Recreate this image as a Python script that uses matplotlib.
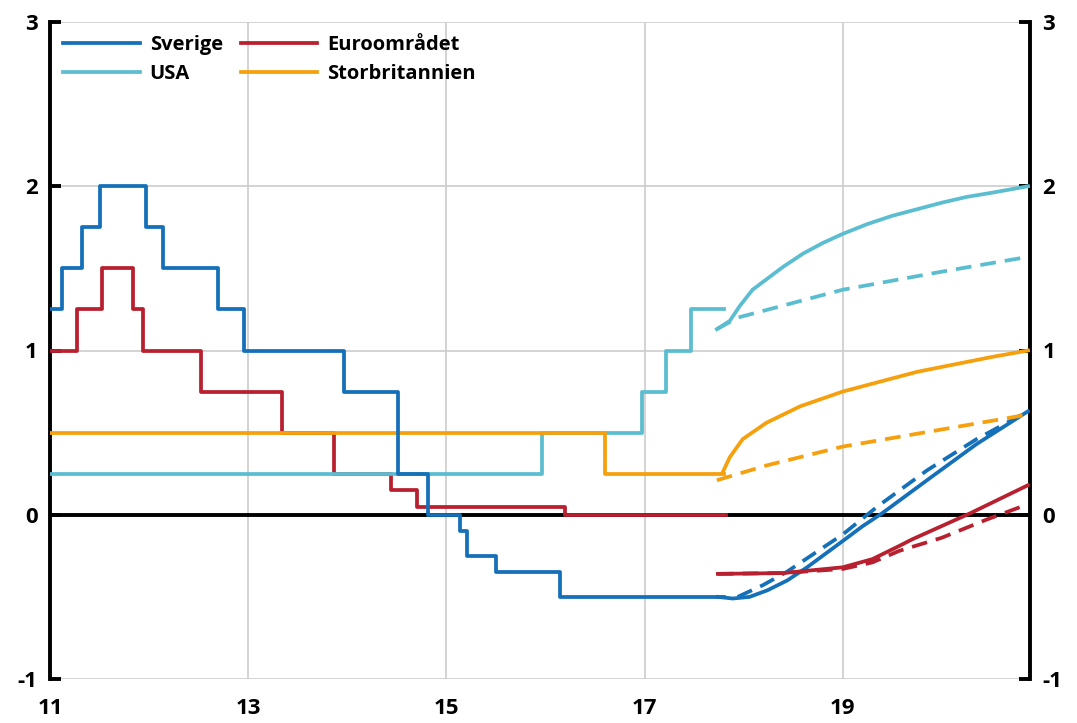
import matplotlib.pyplot as plt

plt.rcParams['font.family'] = ['Open Sans', 'DejaVu Sans']
plt.rcParams['font.weight'] = 'bold'

# colours
c_se = '#1470b8'
c_eu = '#b8202f'
c_us = '#5bbdd0'
c_uk = '#f5a00c'

# outcome (step series)
se_x = [11.0, 11.12, 11.32, 11.5, 11.97, 12.14, 12.70, 12.96, 13.97, 14.51, 14.81, 15.14, 15.21, 15.5, 16.15, 17.8]
se_y = [1.25, 1.5, 1.75, 2.0, 1.75, 1.5, 1.25, 1.0, 0.75, 0.25, 0.0, -0.1, -0.25, -0.35, -0.5, -0.5]

eu_x = [11.0, 11.27, 11.52, 11.84, 11.94, 12.52, 13.34, 13.87, 14.44, 14.7, 16.2, 17.82]
eu_y = [1.0, 1.25, 1.5, 1.25, 1.0, 0.75, 0.5, 0.25, 0.15, 0.05, 0.0, 0.0]

us_x = [11.0, 15.97, 16.97, 17.22, 17.47, 17.8]
us_y = [0.25, 0.5, 0.75, 1.0, 1.25, 1.25]

uk_x = [11.0, 16.6, 17.8]
uk_y = [0.5, 0.25, 0.25]

# market expectations, solid = now, dashed = earlier
se_f_x = [17.74, 17.89, 18.06, 18.24, 18.44, 18.64, 19.0, 19.2, 19.4, 19.85, 20.35, 20.87]
se_f_y = [-0.5, -0.51, -0.5, -0.46, -0.40, -0.32, -0.16, -0.07, 0.01, 0.21, 0.43, 0.63]
se_d_x = [17.94, 18.19, 18.43, 19.0, 19.35, 19.85, 20.35, 20.87]
se_d_y = [-0.5, -0.43, -0.35, -0.12, 0.05, 0.27, 0.46, 0.63]

eu_f_x = [17.74, 18.4, 19.0, 19.3, 19.57, 19.7, 20.29, 20.87]
eu_f_y = [-0.36, -0.355, -0.32, -0.27, -0.19, -0.15, 0.01, 0.18]
eu_d_x = [17.74, 18.4, 19.0, 19.3, 19.57, 20.0, 20.45, 20.85]
eu_d_y = [-0.36, -0.355, -0.33, -0.29, -0.22, -0.14, -0.03, 0.06]

us_f_x = [17.73, 17.86, 17.96, 18.09, 18.4, 18.6, 18.8, 19.0, 19.25, 19.5, 19.75, 20.0, 20.25, 20.5, 20.87]
us_f_y = [1.13, 1.18, 1.27, 1.37, 1.51, 1.59, 1.655, 1.71, 1.77, 1.82, 1.86, 1.9, 1.935, 1.96, 2.0]
us_d_x = [17.73, 17.94, 19.0, 20.0, 20.87]
us_d_y = [1.13, 1.2, 1.37, 1.48, 1.57]

uk_f_x = [17.79, 17.86, 17.99, 18.23, 18.57, 19.0, 19.25, 19.5, 19.75, 20.0, 20.25, 20.5, 20.87]
uk_f_y = [0.26, 0.35, 0.46, 0.56, 0.66, 0.75, 0.79, 0.83, 0.87, 0.9, 0.93, 0.96, 1.0]
uk_d_x = [17.73, 18.23, 19.0, 20.87]
uk_d_y = [0.21, 0.30, 0.415, 0.61]

xticks = [11, 13, 15, 17, 19]
yticks = [-1, 0, 1, 2, 3]

fig = plt.figure(figsize=(10.77, 7.23), dpi=100)
ax = fig.add_axes([50 / 1077, 1 - 679 / 723, 980 / 1077, 657 / 723])

lw = 2.7
dash = (4.2, 2.4)

ax.axhline(0, color='black', lw=2.8, zorder=2)

h_se, = ax.plot(se_x, se_y, drawstyle='steps-post', color=c_se, lw=lw, label='Sverige', zorder=4)
h_eu, = ax.plot(eu_x, eu_y, drawstyle='steps-post', color=c_eu, lw=lw, label='Euroområdet', zorder=3)
h_us, = ax.plot(us_x, us_y, drawstyle='steps-post', color=c_us, lw=lw, label='USA', zorder=3)
h_uk, = ax.plot(uk_x, uk_y, drawstyle='steps-post', color=c_uk, lw=lw, label='Storbritannien', zorder=3)

for fx, fy, dx, dy, c in [(se_f_x, se_f_y, se_d_x, se_d_y, c_se),
                          (eu_f_x, eu_f_y, eu_d_x, eu_d_y, c_eu),
                          (us_f_x, us_f_y, us_d_x, us_d_y, c_us),
                          (uk_f_x, uk_f_y, uk_d_x, uk_d_y, c_uk)]:
    ax.plot(fx, fy, color=c, lw=lw, zorder=3, solid_joinstyle='round')
    ax.plot(dx, dy, color=c, lw=lw, dashes=dash, zorder=3)

ax.set_xlim(11, 20.89)
ax.set_ylim(-1, 3)
ax.set_xticks(xticks)
ax.set_yticks(yticks)
ax.set_xticklabels([str(t) for t in xticks], fontsize=16, fontweight='bold')
ax.set_yticklabels([str(t) for t in yticks], fontsize=16, fontweight='bold')

ax.grid(True, color='#cccccc', lw=1.2, zorder=0)
ax.set_axisbelow(True)

for s in ['top', 'bottom']:
    ax.spines[s].set_visible(False)
for s in ['left', 'right']:
    ax.spines[s].set_linewidth(2.8)
    ax.spines[s].set_color('black')

ax.tick_params(axis='x', length=0, pad=14)
ax.tick_params(axis='y', direction='in', length=8, width=2.8, left=True, right=True,
               labelleft=True, labelright=True, pad=9)

ax.legend([h_se, h_us, h_eu, h_uk], ['Sverige', 'USA', 'Euroområdet', 'Storbritannien'],
          loc='upper left', ncol=2, frameon=False, fontsize=14.5, handlelength=3.8,
          columnspacing=0.9, labelspacing=0.45, bbox_to_anchor=(0.0, 1.0),
          borderaxespad=0.25, handletextpad=0.5)

fig.savefig('out.png', dpi=100)
